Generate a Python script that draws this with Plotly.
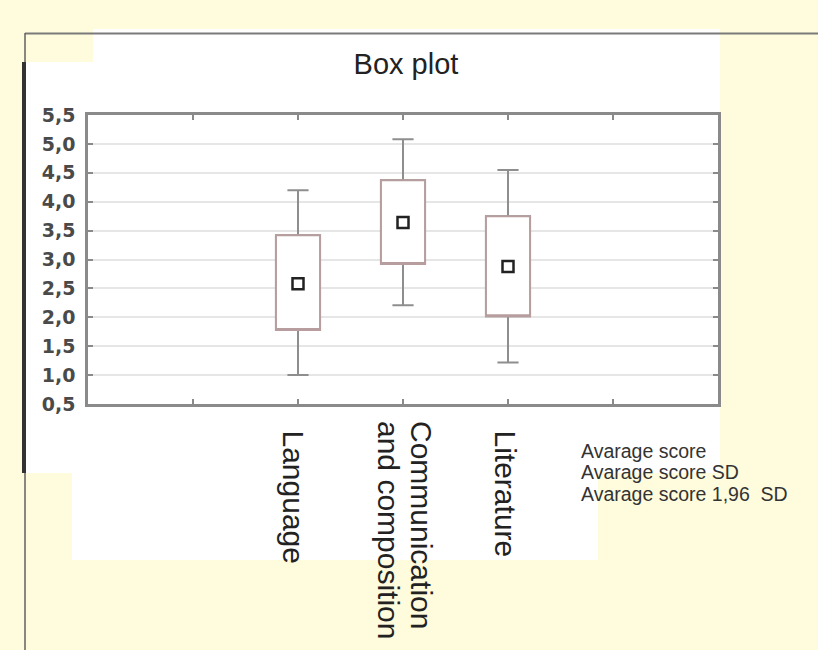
import plotly.graph_objects as go

# Scores per subject: mean, mean ± SD (box) and mean ± 1.96 SD (whiskers)
subjects = ["Language", "Communication<br>and composition", "Literature"]
positions = [2, 3, 4]
mean_score = [2.58, 3.64, 2.88]
sd_low = [1.78, 2.92, 2.02]
sd_high = [3.42, 4.37, 3.75]
ci_low = [1.00, 2.21, 1.22]
ci_high = [4.20, 5.08, 4.55]

tick_positions = [1, 2, 3, 4, 5]
legend_lines = ["Avarage score", "Avarage score SD", "Avarage score 1,96  SD"]

CREAM = "#FFFBDD"
W, H = 818, 650
ML, MR, MT, MB = 88, 100, 115, 246
PW, PH = W - ML - MR, H - MT - MB

# vertical category captions: pixel offsets of each caption line
LABEL_TOP = [429, 420, 429]
LINE_SHIFTS = [[-5], [19, -14], [-3]]


def px_x(x):
    return (x - ML) / PW


def px_y(y):
    return (H - MB - y) / PH


fig = go.Figure()

# whiskers (gray), box hidden underneath the outlined box
fig.add_trace(go.Box(
    x=positions, q1=sd_low, median=sd_low, q3=sd_high,
    lowerfence=ci_low, upperfence=ci_high,
    width=0.42, whiskerwidth=0.48,
    line=dict(color="#8e8e8e", width=2), fillcolor="white",
    hoverinfo="skip", showlegend=False,
))
# SD box with a soft rose outline
fig.add_trace(go.Box(
    x=positions, q1=sd_low, median=sd_low, q3=sd_high,
    lowerfence=sd_low, upperfence=sd_high,
    width=0.42, whiskerwidth=0,
    line=dict(color="#b79d9d", width=2), fillcolor="white",
    hoverinfo="skip", showlegend=False,
))
# mean markers
fig.add_trace(go.Scatter(
    x=positions, y=mean_score, mode="markers",
    marker=dict(symbol="square-open", size=11, color="#222222",
                line=dict(width=2.5, color="#222222")),
    showlegend=False,
))

shapes = []
# white slide panels over the cream background
for x0, y0, x1, y1 in [(93, 29, 720, 468), (25, 62, 720, 473),
                       (72, 468, 598, 560)]:
    shapes.append(dict(type="rect", xref="paper", yref="paper",
                       x0=px_x(x0), x1=px_x(x1), y0=px_y(y0), y1=px_y(y1),
                       fillcolor="white", line=dict(width=0), layer="below"))
# slide frame lines
shapes.append(dict(type="line", xref="paper", yref="paper",
                   x0=px_x(25), x1=px_x(818), y0=px_y(33.5), y1=px_y(33.5),
                   line=dict(color="#7a7a7a", width=2), layer="above"))
shapes.append(dict(type="line", xref="paper", yref="paper",
                   x0=px_x(25), x1=px_x(25), y0=px_y(33), y1=px_y(650),
                   line=dict(color="#606060", width=1.5), layer="above"))
shapes.append(dict(type="line", xref="paper", yref="paper",
                   x0=px_x(24), x1=px_x(24), y0=px_y(62), y1=px_y(473),
                   line=dict(color="#333333", width=4), layer="above"))

annotations = []
# category captions, written top-to-bottom under each box
for pos, name, top, shifts in zip(positions, subjects, LABEL_TOP, LINE_SHIFTS):
    for line, dx in zip(name.split("<br>"), shifts):
        annotations.append(dict(
            text=line, xref="x", yref="paper", x=pos, y=px_y(top),
            xshift=dx, xanchor="center", yanchor="top", textangle=90,
            showarrow=False, borderpad=0,
            font=dict(family="Liberation Sans, Arial, sans-serif", size=30,
                      color="#222222"),
        ))
# key text to the right of the captions
for text, yc in zip(legend_lines, [451, 472, 494]):
    annotations.append(dict(
        text=text, xref="paper", yref="paper", x=px_x(579), y=px_y(yc),
        xanchor="left", yanchor="middle", showarrow=False,
        font=dict(family="Liberation Sans, Arial, sans-serif", size=19.5,
                  color="#333333"),
    ))

fig.update_layout(
    width=W, height=H,
    margin=dict(l=ML, r=MR, t=MT, b=MB, pad=0, autoexpand=False),
    paper_bgcolor=CREAM, plot_bgcolor="white",
    boxmode="overlay",
    separators=",.",
    title=dict(text="Box plot", xref="paper", x=px_x(406), xanchor="center",
               y=1 - 64 / H, yanchor="middle",
               font=dict(family="Liberation Sans, Arial, sans-serif",
                         size=29, color="#222222")),
    shapes=shapes,
    annotations=annotations,
)

fig.update_xaxes(
    range=[0, 6], tickmode="array", tickvals=tick_positions,
    showticklabels=False, automargin=False,
    ticks="inside", ticklen=5, tickwidth=2, tickcolor="#8a8a8a",
    showline=True, linecolor="#8a8a8a", linewidth=2.5, mirror="ticks",
    showgrid=False, zeroline=False,
)
fig.update_yaxes(
    range=[0.5, 5.5], dtick=0.5, tick0=0.5, tickformat=".1f",
    automargin=False,
    ticks="inside", ticklen=5, tickwidth=2, tickcolor="#8a8a8a",
    showline=True, linecolor="#8a8a8a", linewidth=2.5, mirror="ticks",
    showgrid=True, gridcolor="#e6e6e6", gridwidth=2, zeroline=False,
    ticklabelstandoff=6,
    tickfont=dict(family="DejaVu Sans, sans-serif", size=19, weight="bold",
                  color="#4a4a4a"),
)

fig.write_html("out.html")
